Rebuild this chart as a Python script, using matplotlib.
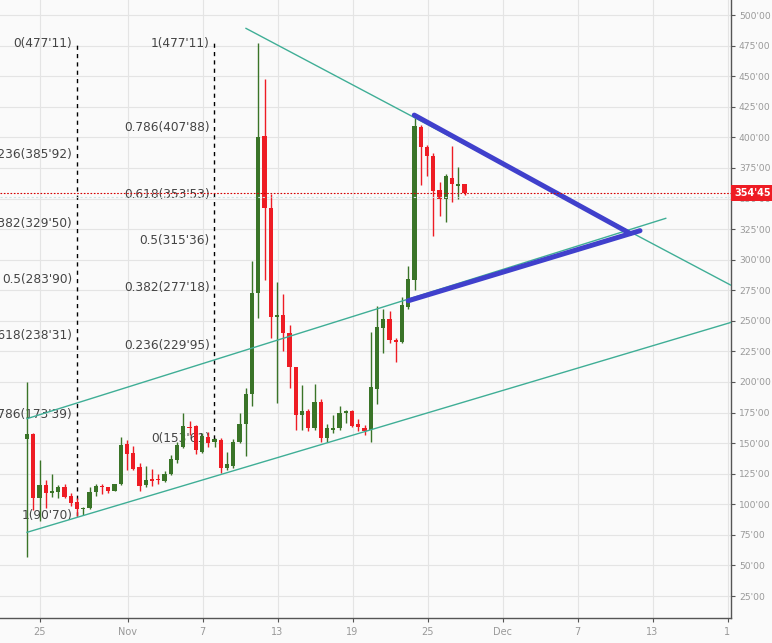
import numpy as np
import matplotlib
matplotlib.use('Agg')
import matplotlib.pyplot as plt
import matplotlib.transforms as mtransforms

# свечи по 12 часов, день 0 = 25 октября
t0 = -1.04
opens = [153, 157.5, 105, 116, 109.5, 110, 114, 107, 102, 96,
         97, 110, 115, 114, 111, 116.5, 149, 142, 130.5, 116,
         120.5, 120.5, 119, 125, 136, 147, 163.5, 164, 143, 155,
         151, 152.5, 130, 131, 151, 165.5, 190, 273, 401, 342,
         253, 254.5, 240, 212, 173, 176, 162, 184, 154, 161,
         162.5, 174.5, 176.5, 165.5, 162.5, 160.7, 194, 244.5, 251.5, 234,
         232.5, 261.5, 283.4, 408.5, 392, 384.7, 357, 349.6, 366.5, 360.5,
         362]
highs = [200, 158, 136, 120, 125, 116, 117, 109, 105, 98,
         114, 117, 117, 114.5, 117, 155, 152.5, 147.5, 133.5, 131,
         129, 124.5, 127, 140, 151, 174.5, 168, 165, 158, 159.5,
         154, 154, 142.5, 153.5, 174.5, 195, 299, 477.11, 447.5, 354,
         281.5, 272, 246.5, 212.5, 197.5, 178, 198, 186.5, 166, 173,
         180, 177, 177.5, 170, 165, 240.6, 262, 259.5, 258, 235.7,
         269.7, 295, 418, 410, 393.7, 387, 363.7, 370, 393, 375.5,
         362]
lows = [57, 95, 86, 97, 106, 105, 105, 98.5, 90.7, 91.5,
        96, 107, 108.5, 109, 111, 116, 128, 128, 111, 114,
        115, 117, 118, 124, 134, 146, 157, 141.5, 142, 146.5,
        147, 125.5, 128, 130, 150, 139.5, 180, 252, 283.5, 236,
        182.5, 225, 195, 161, 161, 160, 160.7, 151, 151, 158,
        160.7, 166.7, 163, 160, 157, 151.2, 182, 223.5, 231.5, 216.6,
        231.6, 260, 275, 361, 368, 319.6, 336, 330.5, 347, 350,
        352.5]
closes = [157.5, 105, 116, 109.5, 111, 114.5, 106, 101, 96, 97,
          110, 115, 114, 111, 116.5, 148.5, 141, 129, 115, 120,
          119, 119.5, 125, 137, 148.5, 164, 162.5, 144, 156, 150,
          153.61, 130, 132.7, 150.7, 166, 190, 273, 400.5, 342, 253,
          254.7, 240, 212, 173, 176, 162, 184, 154, 162.5, 162.5,
          175, 176.5, 164, 163.5, 160, 195.6, 245, 251.5, 234, 232.5,
          263, 284, 409, 392, 384.7, 356.4, 349.6, 368.4, 361.6, 361.6,
          354.45]
last_price = 354.45

# уровни Фибоначчи
fib_ratios = [0, 0.236, 0.382, 0.5, 0.618, 0.786, 1]
fib1_values = [477.11, 385.92, 329.50, 283.90, 238.31, 173.39, 90.70]
fib1_x = 2.94
fib2_ratios = [1, 0.786, 0.618, 0.5, 0.382, 0.236, 0]
fib2_values = [477.11, 407.88, 353.53, 315.36, 277.18, 229.95, 153.61]
fib2_x = 13.94

# трендовые линии (день, цена)
upper_channel = [(-1.04, 170.0), (50.06, 333.8)]
lower_channel = [(-1.04, 77.1), (55.24, 248.6)]
down_line = [(16.48, 489.1), (55.24, 279.3)]
blue_upper = [(29.94, 418.2), (47.2, 321.5)]
blue_lower = [(29.46, 266.4), (48.0, 323.7)]

xtick_days = [0, 7, 13, 19, 25, 31, 37, 43, 49, 55]
xtick_labels = ['25', 'Nov', '7', '13', '19', '25', 'Dec', '7', '13', '1']
ytick_values = np.arange(25, 525, 25)

green = '#3a7428'
red = '#ee1c24'
teal = '#3fae96'
blue = '#4040cc'
bg = '#fafafa'

fig = plt.figure(figsize=(7.72, 6.43), dpi=100, facecolor=bg)
ax = fig.add_axes([0, 24.7 / 643, 730.5 / 772, 618.3 / 643])
ax.set_facecolor(bg)
ax.set_xlim(-3.2, 55.24)
ax.set_ylim(6.8, 512.3)

o = np.array(opens)
h = np.array(highs)
l = np.array(lows)
c = np.array(closes)
x = t0 + 0.5 * np.arange(len(o))
cols = [green if cc >= oo else red for oo, cc in zip(o, c)]

# фибо-сетки: пунктирные вертикали и подписи
for xv, vals, ratios in [(fib1_x, fib1_values, fib_ratios), (fib2_x, fib2_values, fib2_ratios)]:
    ax.plot([xv, xv], [min(vals), max(vals)], color='black', lw=1, ls=(0, (3, 3)), zorder=2)
    for r, v in zip(ratios, vals):
        txt = f"{r:g}(" + f"{v:.2f}".replace('.', "'") + ")"
        ax.text(xv - 0.35, v, txt, ha='right', va='center', fontsize=8.7,
                color='#444444', zorder=2, clip_on=True)

# свечи
ax.vlines(x, l, h, colors=cols, lw=1, zorder=3)
body_h = np.maximum(np.abs(c - o), 1.0)
ax.bar(x, body_h, bottom=np.minimum(o, c), width=0.35, color=cols, lw=0, zorder=4)

# линии
for seg in [upper_channel, lower_channel, down_line]:
    xs, ys = zip(*seg)
    ax.plot(xs, ys, color=teal, lw=1, zorder=5)
for seg in [blue_upper, blue_lower]:
    xs, ys = zip(*seg)
    ax.plot(xs, ys, color=blue, lw=3.6, solid_capstyle='round', zorder=6)

# текущая цена
ax.axhline(351.2, color='#cfe3e3', lw=0.8, ls=(0, (2, 2)), zorder=5)
ax.axhline(last_price, color='#d50000', lw=0.8, ls=(0, (1.5, 1.5)), zorder=6)
ax.annotate(f"{last_price:.2f}".replace('.', "'"), xy=(1, last_price),
            xycoords=('axes fraction', 'data'), xytext=(3, 0), textcoords='offset points',
            ha='left', va='center', fontsize=7, fontweight='bold', color='white',
            bbox=dict(boxstyle='square,pad=0.35', fc=red, ec='none'),
            annotation_clip=False, zorder=10)

ax.set_xticks(xtick_days)
ax.set_xticklabels(xtick_labels)
ax.set_yticks(ytick_values)
ax.set_yticklabels([f"{v}'00" for v in ytick_values])
ax.yaxis.tick_right()
ax.tick_params(axis='y', length=3, pad=3, labelsize=6.6, labelcolor='#999999', color='#555555')
ax.tick_params(axis='x', length=3, pad=3, labelsize=7, labelcolor='#999999', color='#555555')
for s in ['left', 'top']:
    ax.spines[s].set_visible(False)
for s in ['right', 'bottom']:
    ax.spines[s].set_color('#555555')
    ax.spines[s].set_linewidth(1)
ax.grid(True, color='#e4e4e4', lw=0.8)
ax.set_axisbelow(True)

plt.savefig('out.png', dpi=100, facecolor=bg)
